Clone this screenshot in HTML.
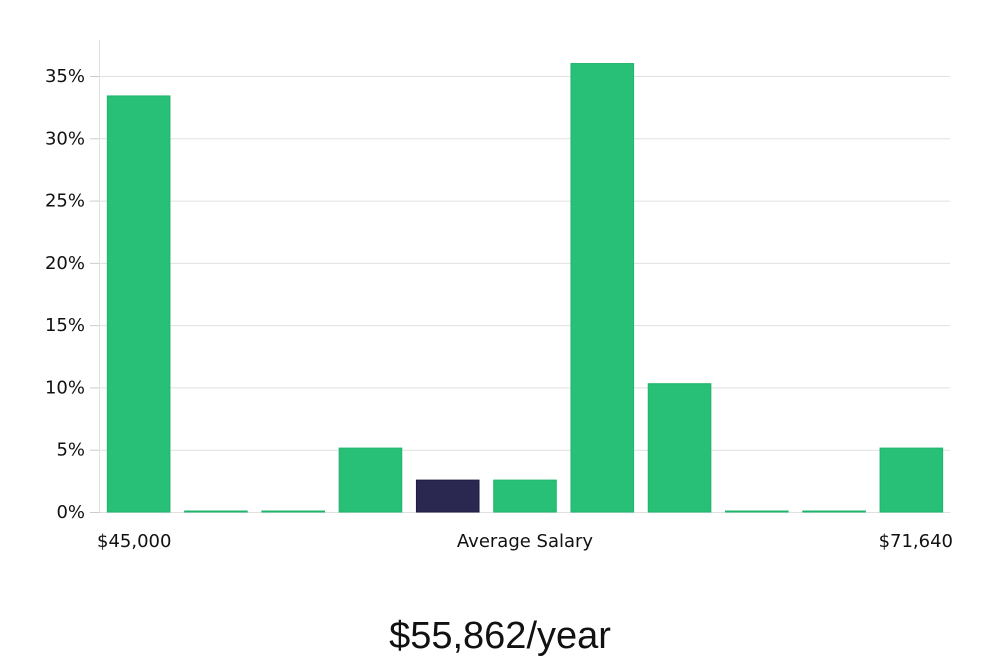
<!DOCTYPE html>
<html><head><meta charset="utf-8"><style>
body{margin:0;background:#fff;}
svg text{font-family:"DejaVu Sans","Liberation Sans",sans-serif;}
</style></head><body>
<svg id="chart" width="1000" height="660" viewBox="0 0 1000 660" xmlns="http://www.w3.org/2000/svg">
<g id="grid"></g>
<g id="bars"></g>
<g id="yticks"></g>
<line x1="99.5" y1="40" x2="99.5" y2="512" stroke="#e0e0e0"/>
<text x="97" y="547" font-size="18" fill="#111">$45,000</text>
<text x="525" y="547" font-size="18" fill="#111" text-anchor="middle">Average Salary</text>
<text x="953" y="547" font-size="18" fill="#111" text-anchor="end">$71,640</text>
<text x="500" y="648" font-size="38" fill="#111" text-anchor="middle" style="font-family:'Liberation Sans',sans-serif">$55,862/year</text>
</svg>
<script>
const categories = ["b1","b2","b3","b4","b5","b6","b7","b8","b9","b10","b11"];
const values = [33.4, 0, 0, 5.13, 2.56, 2.56, 36.0, 10.3, 0, 0, 5.13];
const highlight = [false,false,false,false,true,false,false,false,false,false,false];
const yTicks = [0,5,10,15,20,25,30,35];
const yTickLabels = ["0%","5%","10%","15%","20%","25%","30%","35%"];
const NS="http://www.w3.org/2000/svg";
const x0=100,x1=950,y0=512,pxPer=(512-76)/35;
const y=v=>y0-v*pxPer;
const step=(x1-x0)/categories.length, bw=step*0.81;
const grid=document.getElementById('grid'), yt=document.getElementById('yticks'), bars=document.getElementById('bars');
yTicks.forEach((t,i)=>{
  const l=document.createElementNS(NS,'line');
  
  
  l.setAttribute('x1',x0);l.setAttribute('x2',x1);l.setAttribute('y1',y(t)+0.5);l.setAttribute('y2',y(t)+0.5);
  l.setAttribute('stroke','#e0e0e0');grid.appendChild(l);
  const tk=document.createElementNS(NS,'line');
  
  
  tk.setAttribute('x1',90);tk.setAttribute('x2',x0);tk.setAttribute('y1',y(t)+0.5);tk.setAttribute('y2',y(t)+0.5);
  tk.setAttribute('stroke','#ccc');yt.appendChild(tk);
  const tx=document.createElementNS(NS,'text');
  
  
  tx.setAttribute('x',85);tx.setAttribute('y',y(t)+6);tx.setAttribute('text-anchor','end');
  tx.setAttribute('font-size','18');tx.setAttribute('fill','#111');tx.textContent=yTickLabels[i];yt.appendChild(tx);
});
values.forEach((v,i)=>{
  const r=document.createElementNS(NS,'rect');
  
  
  const h=Math.max(v*pxPer,1);
  r.setAttribute('x',x0+i*step+(step-bw)/2);r.setAttribute('width',bw);
  r.setAttribute('y',y0-h);r.setAttribute('height',h);
  r.setAttribute('fill',highlight[i]?'#2a2750':'#28bf77');
  r.setAttribute('stroke',highlight[i]?'#1f1c40':'#20b56c');r.setAttribute('stroke-width','1');
  bars.appendChild(r);
});
</script>
</body></html>
